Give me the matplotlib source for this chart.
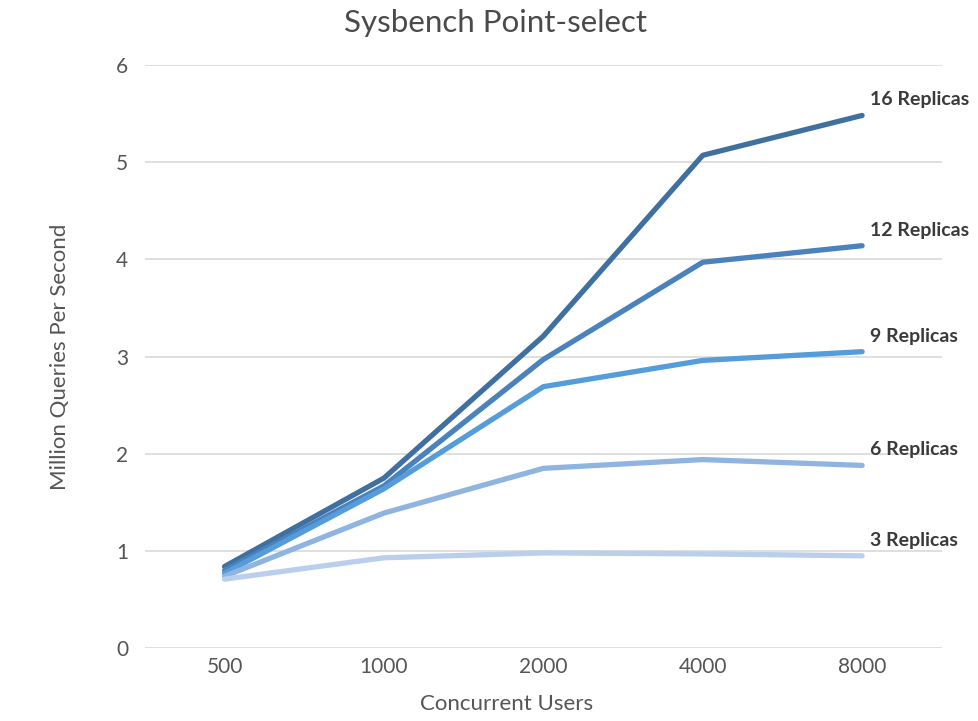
import matplotlib
matplotlib.use("Agg")
from matplotlib import pyplot as plt

USERS = ["500", "1000", "2000", "4000", "8000"]
SERIES = ["16 Replicas", "12 Replicas", "9 Replicas", "6 Replicas", "3 Replicas"]
R16 = [0.84, 1.75, 3.21, 5.07, 5.48]
R12 = [0.80, 1.67, 2.97, 3.97, 4.14]
R9 = [0.77, 1.64, 2.69, 2.96, 3.05]
R6 = [0.74, 1.39, 1.85, 1.94, 1.88]
R3 = [0.71, 0.93, 0.98, 0.97, 0.95]
COLORS = ["#3f70a0", "#4a82bd", "#559cdb", "#8fb4e1", "#b9cfeb"]

plt.rcParams['font.family'] = ['Lato', 'DejaVu Sans']

fig = plt.figure(figsize=(9.79, 7.21), dpi=100)
ax = fig.add_axes([0.148, 0.101, 0.814, 0.809])

x = list(range(len(USERS)))
for name, vals, col in zip(SERIES, [R16, R12, R9, R6, R3], COLORS):
    ax.plot(x, vals, color=col, lw=3.8, solid_capstyle="round", solid_joinstyle="round", zorder=3)
    ax.annotate(name, (x[-1], vals[-1]), xytext=(6, 5), textcoords="offset points",
                fontsize=14, fontweight="bold", color="#3a3a3a", va="bottom", ha="left")

ax.set_xlim(-0.5, 4.5)
ax.set_ylim(0, 6)
ax.set_xticks(x)
ax.set_xticklabels(USERS)
ax.set_yticks(range(7))
ax.grid(axis="y", color="#d9d9d9", lw=1.2)
ax.set_axisbelow(True)
for s in ax.spines.values():
    s.set_visible(False)
ax.tick_params(length=0, labelsize=15, labelcolor="#555555", pad=12)
ax.tick_params(axis="x", pad=6)

fig.text(0.506, 0.968, "Sysbench Point-select", fontsize=22.5, color="#4a4a4a",
         ha="center", va="center")
ax.set_xlabel("Concurrent Users", fontsize=16, color="#555555")
ax.xaxis.set_label_coords(0.454, -0.078)
ax.set_ylabel("Million Queries Per Second", fontsize=16, color="#555555")
ax.yaxis.set_label_coords(-0.094, 0.5)

fig.savefig("out.png", dpi=100)
